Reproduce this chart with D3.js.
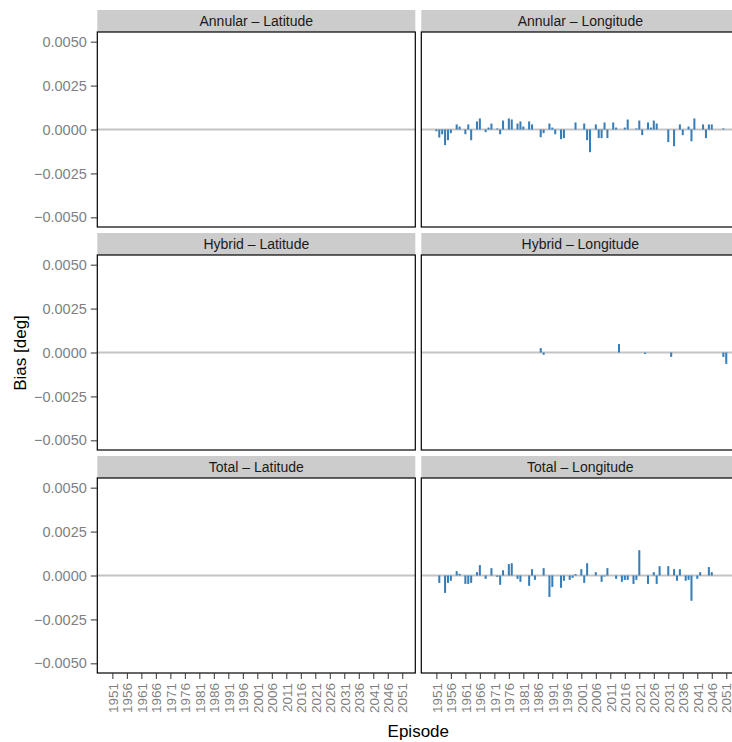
<!DOCTYPE html>
<html>
<head>
<meta charset="utf-8">
<script src="https://cdn.jsdelivr.net/npm/d3@7"></script>
<style>
  body { margin: 0; background: #fff; }
  text { font-family: "Liberation Sans", Arial, sans-serif; }
</style>
</head>
<body>
<div id="chart"></div>
<script>
// tick labels for the episode axis
const xTicks = d3.range(1951, 2052, 5);
const yTicks = [-0.005, -0.0025, 0, 0.0025, 0.005];

const facetRows = ["Annular", "Hybrid", "Total"];
const facetCols = ["Latitude", "Longitude"];

// Annular - Longitude
const annularLonYears = [1951, 1952, 1953, 1954, 1955, 1956, 1958, 1959, 1961, 1962, 1963, 1965, 1966, 1968, 1969, 1970,
  1972, 1973, 1974, 1976, 1977, 1979, 1980, 1981, 1983, 1984, 1987, 1988, 1990, 1991, 1992, 1994, 1995, 1999,
  2002, 2003, 2004, 2006, 2007, 2008, 2009, 2010, 2012, 2013, 2016, 2017, 2020, 2021, 2022, 2024, 2025, 2026, 2027,
  2031, 2033, 2035, 2036, 2038, 2039, 2040, 2043, 2044, 2045, 2046, 2050];
const annularLonBias = [-0.0001, -0.00046, -0.00027, -0.00089, -0.00061, -0.00021, 0.00029, 0.00017, -0.00027, 0.00029,
  -0.00061, 0.00046, 0.00063, -0.00015, 0.00011, 0.00034, 0.00006, -0.00027, 0.00051, 0.00063, 0.00057, 0.00034,
  0.00046, 0.00017, 0.00046, 0.00029, -0.00044, -0.00021, 0.00034, 0.00011, -0.00027, -0.00055, -0.00049, 0.0004,
  0.00034, -0.00061, -0.00129, 0.00029, -0.00049, -0.00049, 0.0004, -0.00049, 0.0004, 0.00011, 0.00011, 0.00057,
  0.00006, 0.00051, -0.00032, 0.0004, 0.00011, 0.00051, 0.00034, -0.00072, -0.00095, 0.00029, -0.00032, 0.00017,
  -0.00067, 0.00063, 0.00029, -0.00049, 0.00029, 0.00029, 0.00006];

// Hybrid - Longitude
const hybridLonYears = [1987, 1988, 2014, 2023, 2032, 2050, 2051];
const hybridLonBias = [0.00025, -0.00013, 0.00048, -0.00008, -0.00025, -0.00025, -0.00065];

// Total - Longitude
const totalLonYears = [1952, 1954, 1955, 1956, 1958, 1959, 1961, 1962, 1963, 1965, 1966, 1968, 1970, 1972, 1973, 1974,
  1976, 1977, 1979, 1980, 1983, 1984, 1985, 1988, 1990, 1991, 1994, 1995, 1997, 1998, 1999, 2001, 2002, 2003, 2006,
  2008, 2009, 2010, 2013, 2015, 2016, 2017, 2019, 2020, 2021, 2024, 2026, 2027, 2028, 2031, 2033, 2034, 2035, 2037,
  2038, 2039, 2041, 2042, 2045, 2046];
const totalLonBias = [-0.00042, -0.00099, -0.00042, -0.0003, 0.00025, 0.0001, -0.00048, -0.00048, -0.00042, 0.00019,
  0.00059, -0.00019, 0.00042, -0.00008, -0.00053, 0.0003, 0.00065, 0.0007, -0.00019, -0.00036, -0.00059, 0.00036,
  -0.00025, 0.00042, -0.00122, -0.00065, -0.0007, -0.0003, -0.00025, -0.00013, 0.00008, 0.00036, -0.00042, 0.0007,
  0.00019, -0.00036, -0.00006, 0.00042, -0.00019, -0.00036, -0.00025, -0.00025, -0.00048, -0.00025, 0.00144,
  -0.00048, 0.00019, -0.00048, 0.00053, 0.00053, 0.00036, -0.0003, 0.00036, -0.0003, -0.00025, -0.00144, -0.00019,
  0.00019, 0.00048, 0.00019];

function pairs(years, vals) { return years.map((y, i) => ({ year: y, bias: vals[i] })); }

const panelData = {
  "Annular – Latitude": [], "Annular – Longitude": pairs(annularLonYears, annularLonBias),
  "Hybrid – Latitude": [], "Hybrid – Longitude": pairs(hybridLonYears, hybridLonBias),
  "Total – Latitude": [], "Total – Longitude": pairs(totalLonYears, totalLonBias)
};

var width = 732, height = 742;
var panelW = 318, panelH = 195, stripH = 22;
var left0 = 97.3, colGap = 6, top0 = 10, rowStep = 223;

var svg = d3.select("#chart").append("svg")
  .attr("width", width)
  .attr("height", height);

var x = d3.scaleLinear().domain([1945.8, 2055.5]).range([0, panelW]);
var y = d3.scaleLinear().domain([-0.00555, 0.00555]).range([panelH, 0]);
var barW = x(1951.35) - x(1950.65);

facetRows.forEach(function (r, ri) {
  facetCols.forEach(function (c, ci) {
    var name = r + " – " + c;
    var px = left0 + ci * (panelW + colGap);
    var py = top0 + ri * rowStep;

    var g = svg.append("g").attr("transform", "translate(" + px + "," + py + ")");

    // strip
    g.append("rect")
      .attr("width", panelW).attr("height", stripH)
      .attr("fill", "#cccccc");
    g.append("text")
      .attr("x", panelW / 2).attr("y", stripH / 2)
      .attr("dy", "0.35em")
      .attr("text-anchor", "middle")
      .style("font-size", "14px")
      .attr("fill", "#1a1a1a")
      .text(name);

    var p = g.append("g").attr("transform", "translate(0," + stripH + ")");

    p.append("rect")
      .attr("width", panelW).attr("height", panelH)
      .attr("fill", "#fff");

    // zero line
    p.append("line")
      .attr("x1", 0).attr("x2", panelW)
      .attr("y1", y(0)).attr("y2", y(0))
      .attr("stroke", "#c4c4c4")
      .attr("stroke-width", 2);

    p.selectAll(".bar")
      .data(panelData[name])
      .enter().append("rect")
      .attr("class", "bar")
      .attr("x", d => x(d.year) - barW / 2)
      .attr("width", barW)
      .attr("y", d => y(Math.max(0, d.bias)))
      .attr("height", d => Math.abs(y(d.bias) - y(0)))
      .attr("fill", "#377eb8");

    p.append("rect")
      .attr("width", panelW).attr("height", panelH)
      .attr("fill", "none")
      .attr("stroke", "#000")
      .attr("stroke-width", 1.2);

    if (ci === 0) {
      var ya = p.append("g")
        .call(d3.axisLeft(y).tickValues(yTicks).tickSize(6.5).tickPadding(4).tickFormat(d3.format(".4f")));
      ya.select(".domain").remove();
      ya.selectAll("line").attr("stroke", "#333");
      ya.selectAll("text").attr("fill", "#7f7f7f").style("font-size", "14.5px")
        .style("font-family", "Liberation Sans, Arial, sans-serif");
    }

    if (ri === facetRows.length - 1) {
      var xa = p.append("g")
        .attr("transform", "translate(0," + panelH + ")")
        .call(d3.axisBottom(x).tickValues(xTicks).tickSize(6).tickFormat(d3.format("d")));
      xa.select(".domain").remove();
      xa.selectAll("line").attr("stroke", "#333");
      xa.selectAll("text")
        .attr("fill", "#7f7f7f")
        .style("font-size", "13.5px")
        .style("font-family", "Liberation Sans, Arial, sans-serif")
        .attr("text-anchor", "end")
        .attr("transform", "rotate(-90)")
        .attr("x", -10)
        .attr("y", 0)
        .attr("dy", "0.35em");
    }
  });
});

// axis titles
svg.append("text")
  .attr("x", left0 + panelW + colGap / 2)
  .attr("y", 737)
  .attr("text-anchor", "middle")
  .style("font-size", "17px")
  .text("Episode");

svg.append("text")
  .attr("transform", "rotate(-90)")
  .attr("x", -353)
  .attr("y", 26)
  .attr("text-anchor", "middle")
  .style("font-size", "17px")
  .text("Bias [deg]");
</script>
</body>
</html>
